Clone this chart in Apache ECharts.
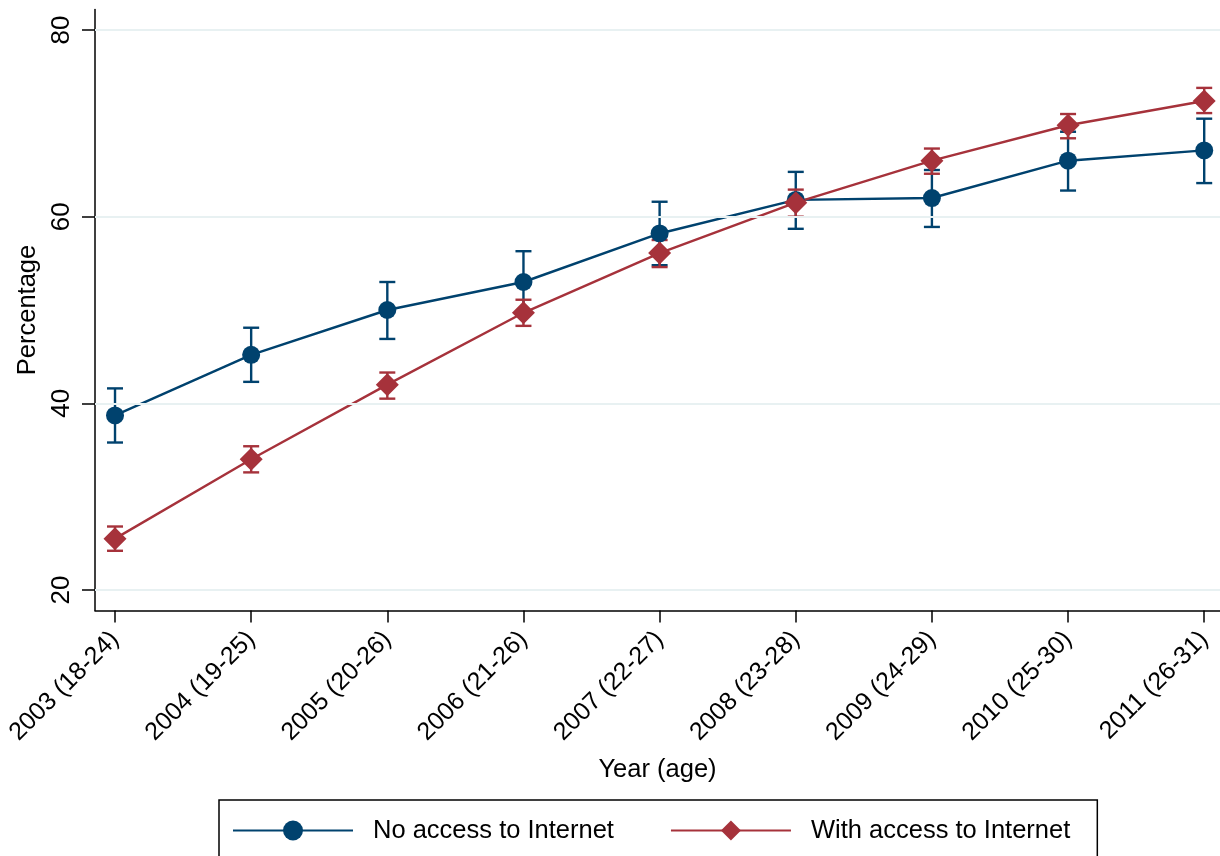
<!DOCTYPE html>
<html>
<head>
<meta charset="utf-8">
<script src="https://cdn.jsdelivr.net/npm/echarts@6/dist/echarts.min.js"></script>
<style>
  html, body { margin: 0; padding: 0; background: #fff; }
  #chart { width: 1220px; height: 856px; }
</style>
</head>
<body>
<div id="chart"></div>
<script>
// data
const years = ['2003 (18-24)', '2004 (19-25)', '2005 (20-26)', '2006 (21-26)', '2007 (22-27)',
  '2008 (23-28)', '2009 (24-29)', '2010 (25-30)', '2011 (26-31)'];
const noAccess = [38.7, 45.2, 50.0, 53.0, 58.2, 61.8, 62.0, 66.0, 67.1];
const noAccessLo = [35.8, 42.3, 46.9, 49.6, 54.8, 58.7, 58.9, 62.8, 63.6];
const noAccessHi = [41.6, 48.1, 53.0, 56.3, 61.6, 64.8, 65.0, 69.1, 70.5];
const withAccess = [25.5, 34.0, 42.0, 49.7, 56.1, 61.5, 66.0, 69.8, 72.4];
const withAccessLo = [24.2, 32.6, 40.5, 48.3, 54.6, 60.0, 64.6, 68.4, 71.1];
const withAccessHi = [26.8, 35.4, 43.3, 51.1, 57.5, 62.9, 67.3, 71.0, 73.8];
const yTicks = [20, 40, 60, 80];
const xTicks = years.map((y, i) => i);

const FONT = 'Liberation Sans, Arial, Helvetica, sans-serif';
const BLUE = '#00426e';
const RED = '#a6323b';

const chart = echarts.init(document.getElementById('chart'));

function errorBars(name, lo, hi, color) {
  return {
    name: name,
    type: 'custom',
    silent: true,
    data: lo.map((v, i) => [i, v, hi[i]]),
    encode: { x: 0, y: [1, 2] },
    renderItem: function (params, api) {
      const x = api.value(0);
      const a = api.coord([x, api.value(1)]);
      const b = api.coord([x, api.value(2)]);
      const w = 8;
      const style = { stroke: color, lineWidth: 2.4 };
      return {
        type: 'group',
        children: [
          { type: 'line', shape: { x1: a[0], y1: a[1], x2: b[0], y2: b[1] }, style: style },
          { type: 'line', shape: { x1: a[0] - w, y1: a[1], x2: a[0] + w, y2: a[1] }, style: style },
          { type: 'line', shape: { x1: b[0] - w, y1: b[1], x2: b[0] + w, y2: b[1] }, style: style }
        ]
      };
    }
  };
}

const blueErr = errorBars('ci1', noAccessLo, noAccessHi, BLUE);
// light horizontal grid lines at the y ticks
blueErr.markLine = {
  silent: true,
  symbol: ['none', 'none'],
  label: { show: false },
  lineStyle: { color: '#e8f1f2', width: 2, type: 'solid' },
  data: yTicks.map(v => ({ yAxis: v }))
};

chart.setOption({
  animation: false,
  backgroundColor: '#fff',
  grid: { left: 95, right: 0, top: 9.5, bottom: 245.5 },
  xAxis: {
    type: 'value',
    min: -0.147,
    max: 8.116,
    name: 'Year (age)',
    nameLocation: 'middle',
    nameGap: 146,
    nameTextStyle: { fontSize: 25.5, color: '#000', fontFamily: FONT },
    axisLine: { onZero: false, lineStyle: { color: '#000', width: 1.5 } },
    axisTick: { customValues: xTicks, length: 12, lineStyle: { color: '#000', width: 1.5 } },
    axisLabel: {
      customValues: xTicks,
      rotate: 45,
      margin: 25,
      fontSize: 25,
      color: '#000',
      fontFamily: FONT,
      formatter: v => years[v]
    },
    splitLine: { show: false }
  },
  yAxis: {
    type: 'value',
    min: 17.8,
    max: 82.2,
    name: 'Percentage',
    nameLocation: 'middle',
    nameRotate: 90,
    nameGap: 41,
    nameTextStyle: { fontSize: 25.5, color: '#000', fontFamily: FONT },
    axisLine: { show: true, onZero: false, lineStyle: { color: '#000', width: 1.5 } },
    axisTick: { show: true, customValues: yTicks, length: 13, lineStyle: { color: '#000', width: 1.5 } },
    axisLabel: {
      customValues: yTicks,
      rotate: 90,
      margin: 20,
      fontSize: 26,
      color: '#000',
      fontFamily: FONT
    },
    splitLine: { show: false }
  },
  legend: {
    left: 219,
    top: 800,
    data: ['No access to Internet', 'With access to Internet'],
    itemWidth: 120,
    itemHeight: 25,
    itemGap: 56,
    padding: [17.5, 27, 40, 13],
    borderColor: '#000',
    borderWidth: 1.5,
    selectedMode: false,
    textStyle: { fontSize: 25.5, color: '#000', fontFamily: FONT, padding: [0, 0, 0, 15] }
  },
  series: [
    blueErr,
    errorBars('ci2', withAccessLo, withAccessHi, RED),
    {
      name: 'No access to Internet',
      type: 'line',
      data: noAccess.map((v, i) => [i, v]),
      symbol: 'circle',
      symbolSize: 18,
      lineStyle: { color: BLUE, width: 2.4 },
      itemStyle: { color: BLUE },
      emphasis: { disabled: true }
    },
    {
      name: 'With access to Internet',
      type: 'line',
      data: withAccess.map((v, i) => [i, v]),
      symbol: 'diamond',
      symbolSize: 23,
      lineStyle: { color: RED, width: 2.4 },
      itemStyle: { color: RED },
      emphasis: { disabled: true }
    }
  ]
});
</script>
</body>
</html>
